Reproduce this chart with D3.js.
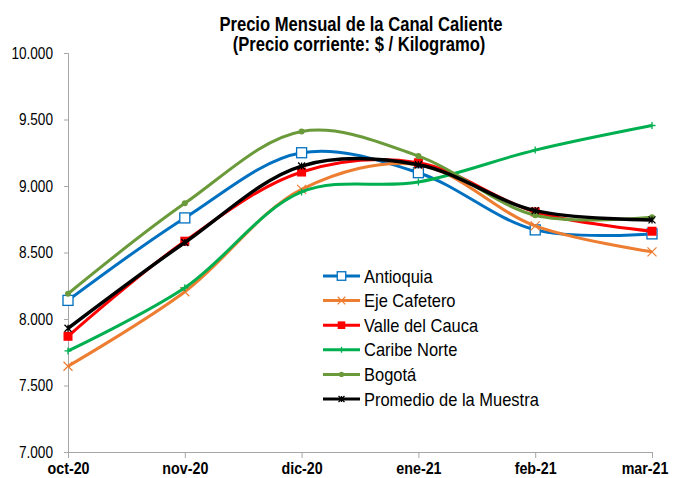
<!DOCTYPE html>
<html>
<head>
<meta charset="utf-8">
<script src="https://cdn.jsdelivr.net/npm/d3@7"></script>
<style>
  body { margin: 0; background: #fff; }
  text { font-family: "Liberation Sans", Arial, sans-serif; }
</style>
</head>
<body>
<div id="chart"></div>
<script>
// months and series values ($ / kg)
const months = ["oct-20", "nov-20", "dic-20", "ene-21", "feb-21", "mar-21"];
const antioquia = [8140, 8760, 9250, 9100, 8670, 8640];
const ejeCafetero = [7645, 8205, 8975, 9160, 8700, 8505];
const valle = [7870, 8585, 9105, 9175, 8805, 8660];
const caribe = [7760, 8235, 8955, 9030, 9270, 9455];
const bogota = [8190, 8870, 9410, 9225, 8780, 8765];
const promedio = [7930, 8575, 9150, 9160, 8815, 8745];
const yTicks = [7000, 7500, 8000, 8500, 9000, 9500, 10000];

const series = [
  { name: "Antioquia", values: antioquia, color: "#0070C0", marker: "hsquare" },
  { name: "Eje Cafetero", values: ejeCafetero, color: "#ED7D31", marker: "x" },
  { name: "Valle del Cauca", values: valle, color: "#FF0000", marker: "square" },
  { name: "Caribe Norte", values: caribe, color: "#00B050", marker: "plus" },
  { name: "Bogotá", values: bogota, color: "#6A9A3A", marker: "circle" },
  { name: "Promedio de la Muestra", values: promedio, color: "#000000", marker: "star" }
];

const width = 673, height = 478;
const svg = d3.select("#chart").append("svg")
  .attr("width", width)
  .attr("height", height);

const x = d3.scalePoint().domain(months).range([68, 652]);
const y = d3.scaleLinear().domain([7000, 10000]).range([452, 53]);

// the original fonts look narrow: squeeze text horizontally
function squeeze(sel, f) {
  sel.each(function () {
    const w = this.getComputedTextLength();
    d3.select(this).attr("textLength", w * f).attr("lengthAdjust", "spacingAndGlyphs");
  });
}

// title
const t1 = svg.append("text")
  .attr("x", 361).attr("y", 31)
  .attr("text-anchor", "middle")
  .style("font-size", "20px").style("font-weight", "bold")
  .text("Precio Mensual de la Canal Caliente");
const t2 = svg.append("text")
  .attr("x", 359).attr("y", 51)
  .attr("text-anchor", "middle")
  .style("font-size", "20px").style("font-weight", "bold")
  .text("(Precio corriente: $ / Kilogramo)");
squeeze(t1, 0.83);
squeeze(t2, 0.83);

// y axis
const yAxis = svg.append("g")
  .attr("transform", "translate(68,0)")
  .call(d3.axisLeft(y).tickValues(yTicks).tickSize(4).tickPadding(11)
    .tickFormat(d => d3.format(",")(d).replace(/,/g, ".")));
yAxis.select(".domain").attr("stroke", "#a6a6a6");
yAxis.selectAll(".tick line").attr("stroke", "#a6a6a6");
yAxis.selectAll(".tick text").style("font-size", "17px").attr("fill", "#000");
squeeze(yAxis.selectAll(".tick text"), 0.8);

// x axis
const xAxis = svg.append("g")
  .attr("transform", "translate(0,452)")
  .call(d3.axisBottom(x).tickSize(6).tickPadding(4).tickSizeOuter(0));
xAxis.select(".domain").attr("stroke", "#a6a6a6");
xAxis.selectAll(".tick line").attr("stroke", "#a6a6a6");
xAxis.selectAll(".tick text").style("font-size", "17px").style("font-weight", "bold").attr("fill", "#000");
squeeze(xAxis.selectAll(".tick text"), 0.84);
// last label: right-align so it stays inside the picture
xAxis.selectAll(".tick text").filter(d => d === "mar-21")
  .attr("text-anchor", "end").attr("x", 668 - x("mar-21"));

const line = d3.line()
  .x((d, i) => x(months[i]))
  .y(d => y(d))
  .curve(d3.curveCatmullRom.alpha(0.5));

function drawMarker(g, type, color, cx, cy, scale) {
  const s = scale || 1;
  if (type === "hsquare") {
    g.append("rect").attr("x", cx - 5 * s).attr("y", cy - 5 * s)
      .attr("width", 10 * s).attr("height", 10 * s)
      .attr("fill", "#fff").attr("stroke", color).attr("stroke-width", 1.3);
  } else if (type === "square") {
    g.append("rect").attr("x", cx - 4.5 * s).attr("y", cy - 4.5 * s)
      .attr("width", 9 * s).attr("height", 9 * s).attr("fill", color);
  } else if (type === "x") {
    const r = 4.5 * s;
    g.append("path").attr("d", `M${cx - r},${cy - r}L${cx + r},${cy + r}M${cx - r},${cy + r}L${cx + r},${cy - r}`)
      .attr("stroke", color).attr("stroke-width", 1.2).attr("fill", "none");
  } else if (type === "plus") {
    const r = 3.5 * s;
    g.append("path").attr("d", `M${cx - r},${cy}L${cx + r},${cy}M${cx},${cy - r}L${cx},${cy + r}`)
      .attr("stroke", color).attr("stroke-width", 1.3).attr("fill", "none");
  } else if (type === "circle") {
    g.append("circle").attr("cx", cx).attr("cy", cy).attr("r", 3 * s).attr("fill", color);
  } else if (type === "star") {
    const r = 3.5 * s;
    g.append("path").attr("d", `M${cx - r},${cy - r}L${cx + r},${cy + r}M${cx - r},${cy + r}L${cx + r},${cy - r}M${cx},${cy - r}L${cx},${cy + r}`)
      .attr("stroke", color).attr("stroke-width", 1.3).attr("fill", "none");
  }
}

// lines and markers
series.forEach(s => {
  const g = svg.append("g");
  g.append("path")
    .attr("d", line(s.values))
    .attr("fill", "none")
    .attr("stroke", s.color)
    .attr("stroke-width", s.marker === "star" ? 3.5 : 3);
  s.values.forEach((v, i) => drawMarker(g, s.marker, s.color, x(months[i]), y(v)));
});

// legend
const legend = svg.append("g");
series.forEach((s, i) => {
  const ly = 276 + i * 24.6;
  legend.append("line")
    .attr("x1", 323).attr("x2", 360).attr("y1", ly).attr("y2", ly)
    .attr("stroke", s.color).attr("stroke-width", 3);
  drawMarker(legend, s.marker, s.color, 341.5, ly, 0.85);
  const lt = legend.append("text")
    .attr("x", 364).attr("y", ly + 6.5)
    .style("font-size", "18.5px")
    .text(s.name);
  squeeze(lt, 0.89);
});
</script>
</body>
</html>
